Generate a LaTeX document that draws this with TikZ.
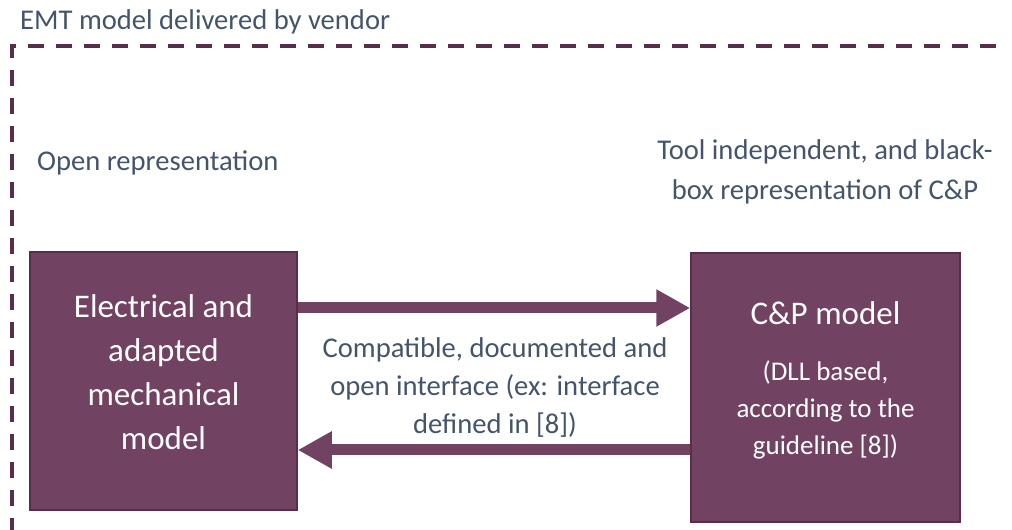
\documentclass[tikz,border=0pt]{standalone}
\usepackage{fontspec}
\setmainfont{Carlito}
\usepackage{tikz}
\usetikzlibrary{positioning, arrows.meta}
\usepackage{xcolor}
\definecolor{plum}{RGB}{114,66,98}
\definecolor{plumdark}{RGB}{88,46,74}
\definecolor{slate}{RGB}{68,84,106}

\begin{document}
\begin{tikzpicture}[x=1pt, y=1pt, >={Triangle[width=35pt,length=34pt]},
                block/.style={draw=plumdark, line width=1.5pt, fill=plum, text=white, inner sep=0pt},
                flow/.style={->, draw=plum, fill=plum, line width=11pt},
                note/.style={text=slate, font=\fontsize{28.6}{38}\selectfont, align=center, inner sep=0pt}]

                \useasboundingbox (0,0) rectangle (1012,530);

                % vendor frame
                \draw[plumdark, line width=4pt, dash pattern=on 16pt off 12pt, dash phase=23pt]
                (1001,484) -- (12,484) -- (12,-5);
                \node[note, anchor=west] (vendor) at (20,508) {EMT model delivered by vendor};

                \node[block, minimum width=267pt, minimum height=258pt] (em) at (163.5,149) {};
                \node[block, minimum width=269pt, minimum height=269pt] (cp) at (825.5,142.5) {};

                \node[note, text=white, font=\fontsize{33}{44}\selectfont] (emtext) at ([yshift=9pt]em.center)
                    {Electrical and\\adapted\\mechanical\\model};
                \node[note, text=white, font=\fontsize{33}{36}\selectfont] (cptitle) at (825.5,217) {C\&P model};
                \node[note, text=white, font=\fontsize{27}{37}\selectfont] (cptext) at (825.5,120)
                    {(DLL based,\\according to the\\guideline [8])};

                \node[note, anchor=west] (open) at (37,367) {Open representation};
                \node[note, font=\fontsize{28.6}{40}\selectfont] (tool) at (825,358)
                    {Tool independent, and black-\\box representation of C\&P};

                \coordinate (fwd) at (0,222);
                \coordinate (bwd) at (0,80);
                \draw[flow] (em.east |- fwd) -- (cp.west |- fwd);
                \draw[flow] (cp.west |- bwd) -- (em.east |- bwd);

                \node[note] (iface) at (495,142)
                    {Compatible, documented and\\open interface (ex: interface\\defined in [8])};

            \end{tikzpicture}
\end{document}
